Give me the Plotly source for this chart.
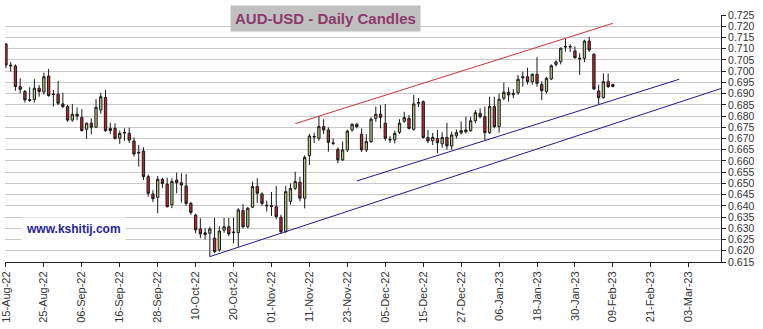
import pandas as pd
import plotly.graph_objects as go

# ---------------- data ----------------
start_date = "2022-08-15"
opens = [0.7121, 0.7027, 0.7023, 0.6931, 0.6909, 0.6873, 0.6874, 0.6924, 0.6907, 0.6978,
         0.6898, 0.6897, 0.6854, 0.6842, 0.6782, 0.6808, 0.6794, 0.6741, 0.6768, 0.6750,
         0.6827, 0.6883, 0.6745, 0.6745, 0.6701, 0.6724, 0.6723, 0.6689, 0.6635, 0.6644,
         0.6530, 0.6453, 0.6438, 0.6518, 0.6497, 0.6405, 0.6515, 0.6503, 0.6489, 0.6411,
         0.6359, 0.6297, 0.6280, 0.6278, 0.6256, 0.6204, 0.6292, 0.6307, 0.6280, 0.6281,
         0.6379, 0.6307, 0.6394, 0.6486, 0.6453, 0.6403, 0.6402, 0.6396, 0.6349, 0.6285,
         0.6420, 0.6478, 0.6505, 0.6434, 0.6624, 0.6706, 0.6701, 0.6753, 0.6738, 0.6681,
         0.6652, 0.6605, 0.6649, 0.6738, 0.6763, 0.6719, 0.6649, 0.6686, 0.6790, 0.6809,
         0.6768, 0.6696, 0.6694, 0.6728, 0.6777, 0.6790, 0.6741, 0.6857, 0.6864, 0.6705,
         0.6690, 0.6700, 0.6676, 0.6705, 0.6667, 0.6712, 0.6725, 0.6738, 0.6735, 0.6779,
         0.6812, 0.6797, 0.6726, 0.6842, 0.6753, 0.6879, 0.6906, 0.6895, 0.6904, 0.6970,
         0.6975, 0.6953, 0.6986, 0.6941, 0.6909, 0.6965, 0.7030, 0.7042, 0.7107, 0.7110,
         0.7090, 0.7058, 0.7057, 0.7134, 0.7075, 0.6912, 0.6882, 0.6953, 0.6940]
highs = [0.7124, 0.7040, 0.7030, 0.6968, 0.6916, 0.6928, 0.6964, 0.6938, 0.6993, 0.7010,
         0.6916, 0.6956, 0.6904, 0.6850, 0.6854, 0.6838, 0.6831, 0.6770, 0.6790, 0.6875,
         0.6904, 0.6916, 0.6770, 0.6768, 0.6735, 0.6745, 0.6748, 0.6705, 0.6671, 0.6661,
         0.6540, 0.6470, 0.6533, 0.6525, 0.6525, 0.6523, 0.6548, 0.6545, 0.6542, 0.6418,
         0.6365, 0.6345, 0.6300, 0.6307, 0.6346, 0.6310, 0.6346, 0.6346, 0.6348, 0.6390,
         0.6408, 0.6395, 0.6508, 0.6523, 0.6460, 0.6424, 0.6462, 0.6489, 0.6360, 0.6489,
         0.6500, 0.6552, 0.6530, 0.6625, 0.6720, 0.6725, 0.6800, 0.6786, 0.6750, 0.6700,
         0.6660, 0.6686, 0.6740, 0.6768, 0.6770, 0.6745, 0.6720, 0.6795, 0.6842, 0.6849,
         0.6854, 0.6712, 0.6735, 0.6786, 0.6819, 0.6805, 0.6894, 0.6880, 0.6870, 0.6738,
         0.6725, 0.6738, 0.6728, 0.6770, 0.6730, 0.6740, 0.6775, 0.6797, 0.6797, 0.6827,
         0.6834, 0.6842, 0.6886, 0.6886, 0.6901, 0.6949, 0.6928, 0.6920, 0.6983, 0.6998,
         0.7015, 0.6990, 0.7062, 0.6955, 0.6975, 0.7030, 0.7048, 0.7105, 0.7143, 0.7120,
         0.7110, 0.7080, 0.7140, 0.7153, 0.7080, 0.6940, 0.6990, 0.6990, 0.6945]
lows = [0.7013, 0.6998, 0.6913, 0.6901, 0.6860, 0.6863, 0.6860, 0.6886, 0.6895, 0.6886,
        0.6842, 0.6849, 0.6836, 0.6774, 0.6775, 0.6781, 0.6731, 0.6699, 0.6719, 0.6748,
        0.6810, 0.6730, 0.6720, 0.6695, 0.6676, 0.6690, 0.6680, 0.6620, 0.6575, 0.6515,
        0.6441, 0.6417, 0.6367, 0.6480, 0.6393, 0.6390, 0.6456, 0.6415, 0.6400, 0.6359,
        0.6278, 0.6256, 0.6250, 0.6174, 0.6189, 0.6196, 0.6280, 0.6265, 0.6233, 0.6218,
        0.6300, 0.6300, 0.6390, 0.6413, 0.6400, 0.6375, 0.6355, 0.6340, 0.6275, 0.6280,
        0.6405, 0.6470, 0.6420, 0.6389, 0.6582, 0.6680, 0.6690, 0.6720, 0.6641, 0.6670,
        0.6590, 0.6600, 0.6640, 0.6730, 0.6745, 0.6640, 0.6640, 0.6680, 0.6775, 0.6745,
        0.6690, 0.6680, 0.6678, 0.6720, 0.6770, 0.6740, 0.6735, 0.6840, 0.6700, 0.6679,
        0.6671, 0.6634, 0.6658, 0.6650, 0.6650, 0.6700, 0.6718, 0.6723, 0.6730, 0.6768,
        0.6790, 0.6693, 0.6720, 0.6745, 0.6726, 0.6870, 0.6864, 0.6880, 0.6894, 0.6931,
        0.6940, 0.6940, 0.6930, 0.6872, 0.6900, 0.6960, 0.7020, 0.7030, 0.7087, 0.7085,
        0.7055, 0.6983, 0.7040, 0.7085, 0.6915, 0.6852, 0.6878, 0.6925, 0.6928]
closes = [0.7027, 0.7024, 0.6931, 0.6919, 0.6872, 0.6870, 0.6924, 0.6909, 0.6975, 0.6891,
          0.6896, 0.6857, 0.6842, 0.6782, 0.6808, 0.6800, 0.6735, 0.6768, 0.6750, 0.6839,
          0.6886, 0.6735, 0.6735, 0.6701, 0.6723, 0.6727, 0.6693, 0.6631, 0.6638, 0.6530,
          0.6456, 0.6432, 0.6518, 0.6500, 0.6396, 0.6509, 0.6503, 0.6493, 0.6411, 0.6371,
          0.6293, 0.6275, 0.6273, 0.6297, 0.6196, 0.6288, 0.6307, 0.6275, 0.6283, 0.6382,
          0.6307, 0.6389, 0.6486, 0.6456, 0.6411, 0.6400, 0.6397, 0.6352, 0.6285, 0.6463,
          0.6478, 0.6508, 0.6434, 0.6616, 0.6711, 0.6709, 0.6753, 0.6738, 0.6683, 0.6678,
          0.6605, 0.6649, 0.6733, 0.6763, 0.6753, 0.6649, 0.6686, 0.6786, 0.6808, 0.6794,
          0.6701, 0.6694, 0.6723, 0.6768, 0.6793, 0.6745, 0.6854, 0.6860, 0.6705, 0.6689,
          0.6705, 0.6681, 0.6705, 0.6667, 0.6716, 0.6726, 0.6735, 0.6730, 0.6779, 0.6815,
          0.6797, 0.6726, 0.6842, 0.6753, 0.6875, 0.6906, 0.6894, 0.6901, 0.6964, 0.6975,
          0.6953, 0.6986, 0.6946, 0.6913, 0.6968, 0.7024, 0.7041, 0.7102, 0.7110, 0.7108,
          0.7060, 0.7055, 0.7134, 0.7094, 0.6921, 0.6882, 0.6953, 0.6931, 0.6932]

# trend lines (date, price)
red_line_dates = ["2022-11-08", "2023-02-09"]
red_line_prices = [0.6766, 0.7213]
blue_upper_dates = ["2022-11-25", "2023-03-01"]
blue_upper_prices = [0.6511, 0.6964]
blue_lower_dates = ["2022-10-13", "2023-03-14"]
blue_lower_prices = [0.6174, 0.6924]

tick_every = 8
y_ticks = [round(0.615 + 0.005 * i, 3) for i in range(23)]

# ---------------- build ----------------
n = len(opens)
all_days = pd.bdate_range(start_date, periods=152)
day_index = {d.strftime("%Y-%m-%d"): i for i, d in enumerate(all_days)}
x = list(range(n))

tick_idx = list(range(0, 145, tick_every))
tick_txt = [all_days[i].strftime("%d-%b-%y") for i in tick_idx]

FONT = "Liberation Sans, Arial, sans-serif"

fig = go.Figure()
fig.add_trace(go.Candlestick(
    x=x, open=opens, high=highs, low=lows, close=closes,
    increasing=dict(fillcolor="#b3c97e", line=dict(color="#1a1a1a", width=1)),
    decreasing=dict(fillcolor="#c1272d", line=dict(color="#1a1a1a", width=1)),
    whiskerwidth=0, showlegend=False, hoverinfo="skip"))

for dates, prices, col in [(red_line_dates, red_line_prices, "#cc3333"),
                           (blue_upper_dates, blue_upper_prices, "#1c1c8a"),
                           (blue_lower_dates, blue_lower_prices, "#1c1c8a")]:
    fig.add_trace(go.Scatter(x=[day_index[d] for d in dates], y=prices, mode="lines",
                             line=dict(color=col, width=1), showlegend=False,
                             hoverinfo="skip"))

fig.update_layout(
    width=763, height=329,
    margin=dict(l=5, r=42, t=15, b=67, autoexpand=False),
    paper_bgcolor="white", plot_bgcolor="white",
    font=dict(family=FONT, color="#333333"),
    xaxis=dict(range=[-0.2, 150.8], tickmode="array", tickvals=tick_idx, ticktext=tick_txt,
               tickangle=-90, tickfont=dict(size=11, color="#333333"),
               ticklabeloverflow="allow", automargin=False,
               showgrid=False, zeroline=False, showline=True, linecolor="#222222",
               linewidth=1, ticks="outside", ticklen=4, tickcolor="#222222",
               rangeslider=dict(visible=False)),
    yaxis=dict(range=[0.615, 0.725], side="right", tickmode="array", tickvals=y_ticks,
               ticktext=[f"{v:.3f}" for v in y_ticks], tickfont=dict(size=10.5, color="#333333"),
               ticklabeloverflow="allow", automargin=False,
               showgrid=True, gridcolor="#c8c8c8", gridwidth=1, zeroline=False,
               showline=True, linecolor="#222222", linewidth=1,
               ticks="outside", ticklen=4, tickcolor="#222222"),
    annotations=[
        dict(text="<b>AUD-USD - Daily Candles</b>", xref="paper", yref="paper",
             x=0.4476, y=0.984, xanchor="center", yanchor="middle", showarrow=False,
             font=dict(size=15, color="#8c3a6c", family=FONT),
             bgcolor="#c0c0c0", borderpad=4),
        dict(text="<b>www.kshitij.com</b>", xref="paper", yref="paper",
             x=0.095, y=0.1336, xanchor="center", yanchor="middle", showarrow=False,
             font=dict(size=12, color="#1f1fa0", family=FONT),
             bgcolor="white", borderpad=4),
    ],
)

fig.write_html("out.html")
